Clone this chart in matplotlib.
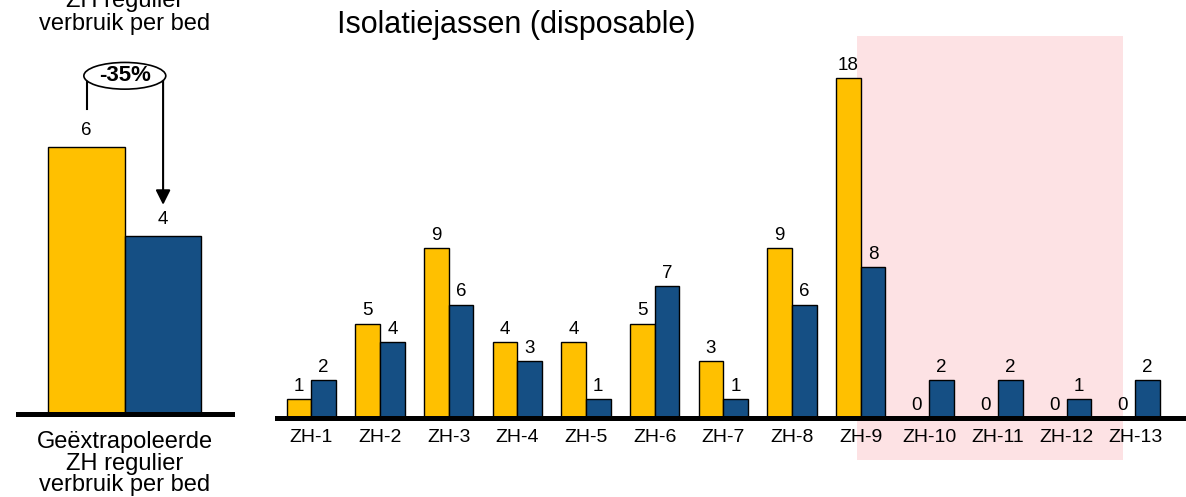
import matplotlib.pyplot as plt
from matplotlib.patches import Ellipse
import numpy as np

plt.rcParams['font.family'] = ['Liberation Sans', 'DejaVu Sans']

# Left panel: extrapolated regular use per bed
ref_values = [6, 4]
ref_change = "-35%"

# Right panel: per hospital
hospitals = ["ZH-1", "ZH-2", "ZH-3", "ZH-4", "ZH-5", "ZH-6", "ZH-7",
             "ZH-8", "ZH-9", "ZH-10", "ZH-11", "ZH-12", "ZH-13"]
series_a = [1, 5, 9, 4, 4, 5, 3, 9, 18, 0, 0, 0, 0]
series_b = [2, 4, 6, 3, 1, 7, 1, 6, 8, 2, 2, 1, 2]

YELLOW = "#FFC000"
BLUE = "#154F84"
PINK = "#FDE2E4"

W, H = 1186, 497
fig = plt.figure(figsize=(W / 100, H / 100), dpi=100)

# ---------- left panel ----------
axl = fig.add_axes([18 / W, 83 / H, 214 / W, 356 / H])
axl.set_facecolor("none")
axl.bar([0], [ref_values[0]], width=1, color=YELLOW, edgecolor="black", linewidth=1)
axl.bar([1], [ref_values[1]], width=1, color=BLUE, edgecolor="black", linewidth=1)
axl.set_xlim(-0.895, 1.90)
axl.set_ylim(0, 8)
for x, v in zip([0, 1], ref_values):
    axl.annotate(str(v), (x, v), xytext=(0, 6), textcoords="offset points",
                 ha="center", va="bottom", fontsize=13.5)
for s in ["top", "left", "right"]:
    axl.spines[s].set_visible(False)
axl.spines["bottom"].set_linewidth(3.6)
axl.set_xticks([])
axl.set_yticks([])

# change bracket with arrow
top_y = 7.6
axl.plot([0, 0], [ref_values[0] + 0.85, top_y], color="black", lw=1.5, clip_on=False)
axl.annotate("", xy=(1, ref_values[1] + 0.7), xytext=(1, top_y),
             arrowprops=dict(arrowstyle="-|>", color="black", lw=1.5,
                             mutation_scale=22, shrinkA=0, shrinkB=0),
             annotation_clip=False)
axl.add_patch(Ellipse((0.5, top_y), 1.07, 0.6, facecolor="white",
                      edgecolor="black", lw=1.2, clip_on=False, zorder=5))
axl.text(0.5, top_y, ref_change, ha="center", va="center", fontsize=16,
         fontweight="bold", zorder=6)

fig.text(125 / W, 1 - 7 / H, "ZH regulier", ha="center", va="baseline", fontsize=17)
fig.text(125 / W, 1 - 30 / H, "verbruik per bed", ha="center", va="baseline",
         fontsize=17)
fig.text(125 / W, 1 - 496 / H, "Geëxtrapoleerde\nZH regulier\nverbruik per bed",
         ha="center", va="bottom", fontsize=17, linespacing=0.97)

# ---------- right panel ----------
axr = fig.add_axes([277 / W, 79 / H, (W - 277) / W, 378 / H])
axr.set_facecolor("none")
x = np.arange(len(hospitals))
bw = 0.36
axr.axvspan(7.95, 11.82, ymin=-0.111, ymax=1.011, color=PINK, lw=0,
            clip_on=False, zorder=0)
bars_a = axr.bar(x - bw / 2, series_a, width=bw, color=YELLOW,
                 edgecolor="black", linewidth=1, zorder=2)
bars_b = axr.bar(x + bw / 2, series_b, width=bw, color=BLUE,
                 edgecolor="black", linewidth=1, zorder=2)
for bars, vals in [(bars_a, series_a), (bars_b, series_b)]:
    for b, v in zip(bars, vals):
        axr.annotate(str(v), (b.get_x() + b.get_width() / 2, v), xytext=(0, 3),
                     textcoords="offset points", ha="center", va="bottom",
                     fontsize=13.5, zorder=3)
axr.set_xlim(-0.5, 12.74)
axr.set_ylim(0, 20)
axr.set_xticks(x)
axr.set_xticklabels(hospitals, fontsize=14)
axr.tick_params(axis="x", length=0, pad=8)
axr.set_yticks([])
for s in ["top", "left", "right"]:
    axr.spines[s].set_visible(False)
axr.spines["bottom"].set_linewidth(3.6)
axr.spines["bottom"].set_zorder(4)

fig.text(337 / W, 1 - 33 / H, "Isolatiejassen (disposable)", ha="left",
         va="baseline", fontsize=22)

fig.savefig("out.png", dpi=100)
